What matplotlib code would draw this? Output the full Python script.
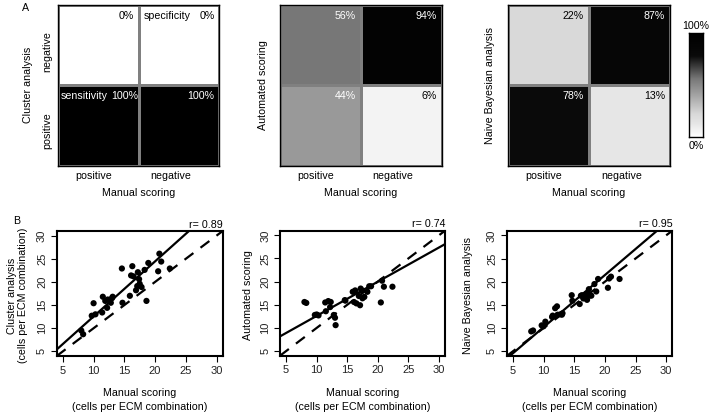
"""Confusion heatmaps (A) and manual-vs-automated scatter plots (B)."""

import matplotlib

matplotlib.use("Agg")
import matplotlib.pyplot as plt
import numpy as np
from matplotlib.colors import LinearSegmentedColormap

plt.rcParams["font.family"] = ["Liberation Sans", "DejaVu Sans"]
plt.rcParams["font.size"] = 7.7

W, H = 714, 419

# --- panel A: percentages, rows = predicted (positive, negative), cols = manual (positive, negative)
class_labels = ["positive", "negative"]
pct_cluster = [[100, 100], [0, 0]]
pct_automated = [[44, 6], [56, 94]]
pct_bayes = [[78, 13], [22, 87]]
method_names = ["Cluster analysis", "Automated scoring", "Naive Bayesian analysis"]

# grey level for a few percentages
shade_pct = [0, 13, 22, 44, 56, 78, 100]
shade_grey = [1.0, 0.9, 0.85, 0.6, 0.47, 0.04, 0.0]

# --- panel B: cells per ECM combination
manual = [8.0, 8.3, 9.7, 10.0, 10.3, 11.4, 11.5, 11.9, 12.2, 12.3, 12.8, 13.0, 13.1,
          14.6, 14.7, 15.9, 16.1, 16.3, 16.5, 16.9, 17.1, 17.2, 17.4, 17.5, 17.8,
          18.3, 18.6, 18.9, 20.5, 20.7, 21.0, 22.4]
cluster = [9.5, 8.7, 12.7, 15.4, 13.0, 13.4, 16.8, 15.9, 14.4, 16.2, 15.5, 16.5, 16.8,
           22.9, 15.5, 17.0, 21.4, 23.4, 21.2, 18.2, 19.1, 22.1, 20.6, 19.6, 18.9,
           22.6, 15.9, 24.1, 22.3, 26.1, 24.4, 22.9]
automated = [15.6, 15.4, 12.8, 12.9, 12.7, 15.5, 13.6, 15.8, 14.5, 15.6, 12.8, 12.2, 10.6,
             16.0, 15.9, 17.8, 15.6, 18.1, 15.3, 16.9, 14.9, 18.5, 18.1, 16.4, 16.7,
             17.8, 19.0, 19.0, 15.5, 20.2, 18.9, 18.9]
bayes = [9.3, 9.5, 10.6, 10.4, 11.4, 12.4, 12.7, 14.3, 14.7, 12.9, 13.0, 12.9, 13.2,
         17.1, 15.9, 15.2, 17.0, 17.1, 16.4, 17.3, 16.1, 17.4, 18.4, 17.0, 17.0,
         19.5, 17.9, 20.6, 18.7, 20.7, 21.1, 20.6]
fit_slope = [1.19, 0.738, 1.124]
fit_intercept = [0.64, 5.22, -1.05]
r_values = [0.89, 0.74, 0.95]
scatter_ylabels = ["Cluster analysis\n(cells per ECM combination)", "Automated scoring",
                   "Naive Bayesian analysis"]


def rect(x0, y0, x1, y1):
    return [x0 / W, 1 - y1 / H, (x1 - x0) / W, (y1 - y0) / H]


fig = plt.figure(figsize=(W / 100, H / 100), dpi=100)

nodes = [(p / 100, (g, g, g)) for p, g in zip(shade_pct, shade_grey)]
cmap = LinearSegmentedColormap.from_list("shade", nodes)

heat_boxes = [(57.7, 5, 219.3, 165.7), (280, 5, 441.7, 165.7), (507.7, 5, 670, 165.7)]
heat_ylabel_x = [28, 262.7, 490]
heat_data = [pct_cluster, pct_automated, pct_bayes]

for i, (box, pct) in enumerate(zip(heat_boxes, heat_data)):
    ax = fig.add_axes(rect(*box))
    vals = np.array(pct, dtype=float)
    ax.pcolormesh([0, 0.5, 1], [0, 0.5, 1], vals, cmap=cmap, vmin=0, vmax=100,
                  edgecolors="#808080", linewidth=1.0)
    for r in range(2):
        for c in range(2):
            v = vals[r, c]
            colour = "white" if v > 35 else "black"
            right = c * 0.5 + 0.47
            if i == 0 and r == 0 and c == 0:
                right = 0.5
            ax.text(right, r * 0.5 + 0.465, f"{v:.0f}%", ha="right", va="top",
                    color=colour)
    if i == 0:
        ax.text(0.535, 0.965, "specificity", ha="left", va="top", color="black")
        ax.text(0.02, 0.465, "sensitivity", ha="left", va="top", color="white")
    ax.set_xlim(0, 1)
    ax.set_ylim(0, 1)
    ax.set_xticks([0.22, 0.7], labels=class_labels)
    ax.tick_params(axis="x", length=0, pad=4)
    if i == 0:
        ax.set_yticks([0.22, 0.71], labels=class_labels, rotation=90, va="center")
        ax.tick_params(axis="y", length=0, pad=4)
    else:
        ax.set_yticks([])
    for s in ax.spines.values():
        s.set_linewidth(1.0)
    cx = (box[0] + box[2]) / 2
    fig.text(cx / W, 1 - 193 / H, "Manual scoring", ha="center", va="center")
    fig.text(heat_ylabel_x[i] / W, 1 - 85 / H, method_names[i], rotation=90,
             ha="center", va="center")

# colour key
cax = fig.add_axes(rect(689.3, 33.3, 702.7, 136.7))
grad = np.linspace(0, 100, 256).reshape(-1, 1)
cax.imshow(grad, cmap=cmap, vmin=0, vmax=100, aspect="auto", origin="lower",
           extent=[0, 1, 0, 1])
cax.set_xticks([])
cax.set_yticks([])
for s in cax.spines.values():
    s.set_linewidth(1.0)
fig.text(696 / W, 1 - 26 / H, "100%", ha="center", va="center")
fig.text(696 / W, 1 - 146 / H, "0%", ha="center", va="center")

fig.text(25.7 / W, 1 - 8.3 / H, "A", ha="center", va="center")
fig.text(16.7 / W, 1 - 221 / H, "B", ha="center", va="center")

# scatter panels
scatter_boxes = [(56.7, 231, 222.7, 356), (280, 230.7, 445, 355.7), (506.7, 230.7, 672.3, 356)]
scatter_ylabel_x = [17.5, 248, 468]
ticks = [5, 10, 15, 20, 25, 30]

for i, (box, yvals) in enumerate(zip(scatter_boxes, [cluster, automated, bayes])):
    ax = fig.add_axes(rect(*box))
    ax.scatter(manual, yvals, s=20, color="black", edgecolors="none", zorder=3)
    ax.axline((0, fit_intercept[i]), slope=fit_slope[i], color="black", lw=1.6)
    ax.axline((0, 0), slope=1, color="black", lw=1.6, dashes=(5, 4))
    ax.set_xlim(4, 31)
    ax.set_ylim(4, 31)
    ax.set_xticks(ticks)
    ax.set_yticks(ticks)
    ax.set_yticklabels([str(t) for t in ticks], rotation=90, va="center")
    ax.tick_params(length=4, width=0.8, pad=3, labelcolor="#222222", labelsize=8)
    for s in ax.spines.values():
        s.set_linewidth(1.5)
    ax.text(1.0, 1.01, f"r= {r_values[i]:.2f}", transform=ax.transAxes,
            ha="right", va="bottom")
    cx = (box[0] + box[2]) / 2
    fig.text(cx / W, 1 - 392.7 / H, "Manual scoring", ha="center", va="center")
    fig.text(cx / W, 1 - 407 / H, "(cells per ECM combination)", ha="center", va="center")
    cy = (box[1] + box[3]) / 2
    fig.text(scatter_ylabel_x[i] / W, 1 - (cy + 2) / H, scatter_ylabels[i], rotation=90,
             ha="center", va="center", multialignment="center", linespacing=1.1)

fig.savefig("out.png", dpi=100)
